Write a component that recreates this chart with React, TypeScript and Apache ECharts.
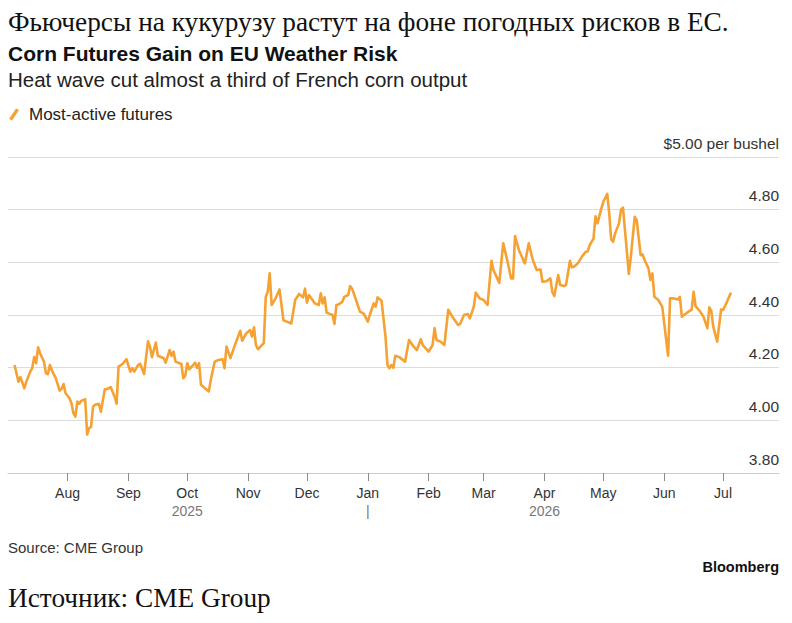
import React, { useEffect, useRef } from "react";
import * as echarts from "echarts";

const seriesName = "Most-active futures";

const dates = [
  "2025-07-05","2025-07-07","2025-07-08","2025-07-10","2025-07-11","2025-07-13","2025-07-14","2025-07-15","2025-07-16","2025-07-17",
  "2025-07-18","2025-07-20","2025-07-21","2025-07-22","2025-07-23","2025-07-24","2025-07-26","2025-07-28","2025-07-29","2025-07-30",
  "2025-07-31","2025-08-02","2025-08-03","2025-08-04","2025-08-05","2025-08-06","2025-08-07","2025-08-08","2025-08-10","2025-08-11",
  "2025-08-12","2025-08-13","2025-08-14","2025-08-15","2025-08-17","2025-08-18","2025-08-20","2025-08-21","2025-08-23","2025-08-25",
  "2025-08-26","2025-08-27","2025-08-29","2025-08-31","2025-09-02","2025-09-03","2025-09-04","2025-09-06","2025-09-07","2025-09-09",
  "2025-09-11","2025-09-12","2025-09-13","2025-09-15","2025-09-16","2025-09-19","2025-09-20","2025-09-22","2025-09-23","2025-09-24",
  "2025-09-25","2025-09-27","2025-09-28","2025-09-29","2025-09-30","2025-10-01","2025-10-02","2025-10-04","2025-10-05","2025-10-06",
  "2025-10-07","2025-10-08","2025-10-10","2025-10-12","2025-10-13","2025-10-15","2025-10-17","2025-10-19","2025-10-20","2025-10-21",
  "2025-10-23","2025-10-25","2025-10-28","2025-10-29","2025-10-31","2025-11-02","2025-11-03","2025-11-04","2025-11-05","2025-11-06",
  "2025-11-09","2025-11-10","2025-11-11","2025-11-12","2025-11-13","2025-11-15","2025-11-17","2025-11-19","2025-11-21","2025-11-23",
  "2025-11-25","2025-11-27","2025-11-29","2025-11-30","2025-12-01","2025-12-02","2025-12-04","2025-12-05","2025-12-07","2025-12-08",
  "2025-12-09","2025-12-10","2025-12-11","2025-12-14","2025-12-15","2025-12-16","2025-12-17","2025-12-19","2025-12-20","2025-12-22",
  "2025-12-23","2025-12-24","2025-12-26","2025-12-28","2025-12-30","2026-01-01","2026-01-02","2026-01-04","2026-01-05","2026-01-06",
  "2026-01-08","2026-01-10","2026-01-11","2026-01-12","2026-01-13","2026-01-14","2026-01-15","2026-01-17","2026-01-20","2026-01-22",
  "2026-01-24","2026-01-26","2026-01-28","2026-01-29","2026-02-01","2026-02-03","2026-02-04","2026-02-05","2026-02-07","2026-02-09",
  "2026-02-11","2026-02-13","2026-02-16","2026-02-17","2026-02-19","2026-02-21","2026-02-22","2026-02-24","2026-02-25","2026-02-27",
  "2026-03-01","2026-03-03","2026-03-05","2026-03-06","2026-03-09","2026-03-10","2026-03-11","2026-03-13","2026-03-15","2026-03-16",
  "2026-03-17","2026-03-19","2026-03-22","2026-03-24","2026-03-26","2026-03-28","2026-03-30","2026-03-31","2026-04-02","2026-04-04",
  "2026-04-05","2026-04-06","2026-04-08","2026-04-09","2026-04-11","2026-04-12","2026-04-14","2026-04-15","2026-04-16","2026-04-18",
  "2026-04-20","2026-04-22","2026-04-23","2026-04-24","2026-04-26","2026-04-27","2026-04-28","2026-04-30","2026-05-01","2026-05-03",
  "2026-05-04","2026-05-05","2026-05-06","2026-05-07","2026-05-09","2026-05-10","2026-05-11","2026-05-14","2026-05-15","2026-05-17",
  "2026-05-18","2026-05-20","2026-05-21","2026-05-22","2026-05-24","2026-05-25","2026-05-26","2026-05-27","2026-05-29","2026-05-31",
  "2026-06-01","2026-06-03","2026-06-04","2026-06-06","2026-06-08","2026-06-09","2026-06-10","2026-06-12","2026-06-14","2026-06-15",
  "2026-06-16","2026-06-17","2026-06-19","2026-06-21","2026-06-23","2026-06-24","2026-06-25","2026-06-26","2026-06-28","2026-06-30",
  "2026-07-01","2026-07-03","2026-07-05",
];

const prices = [
  4.21,4.147,4.164,4.122,4.147,4.185,4.198,4.24,4.217,4.277,
  4.255,4.223,4.179,4.175,4.21,4.19,4.16,4.113,4.12,4.138,
  4.103,4.084,4.065,4.027,4.014,4.071,4.063,4.074,4.08,3.946,
  3.97,3.976,4.052,4.059,4.063,4.033,4.118,4.118,4.126,4.09,
  4.063,4.204,4.214,4.232,4.185,4.198,4.185,4.21,4.215,4.176,
  4.30,4.28,4.24,4.295,4.245,4.236,4.219,4.267,4.245,4.261,
  4.223,4.217,4.214,4.16,4.17,4.217,4.194,4.21,4.219,4.20,
  4.217,4.135,4.122,4.11,4.154,4.223,4.229,4.232,4.198,4.28,
  4.236,4.28,4.34,4.302,4.33,4.343,4.318,4.353,4.286,4.27,
  4.293,4.469,4.488,4.558,4.438,4.463,4.497,4.38,4.374,4.368,
  4.457,4.48,4.467,4.50,4.447,4.476,4.455,4.444,4.438,4.482,
  4.444,4.467,4.409,4.40,4.366,4.438,4.44,4.45,4.469,4.476,
  4.51,4.50,4.457,4.413,4.404,4.375,4.40,4.444,4.432,4.467,
  4.454,4.318,4.21,4.198,4.21,4.20,4.245,4.24,4.223,4.305,
  4.283,4.267,4.308,4.286,4.261,4.286,4.35,4.305,4.299,4.286,
  4.42,4.394,4.362,4.366,4.40,4.404,4.387,4.432,4.485,4.463,
  4.457,4.438,4.606,4.571,4.522,4.60,4.672,4.609,4.539,4.539,
  4.70,4.646,4.596,4.672,4.611,4.571,4.573,4.526,4.528,4.539,
  4.488,4.472,4.552,4.514,4.51,4.514,4.606,4.581,4.583,4.596,
  4.621,4.64,4.641,4.665,4.69,4.775,4.748,4.805,4.83,4.86,
  4.786,4.687,4.678,4.71,4.748,4.80,4.808,4.556,4.621,4.773,
  4.76,4.627,4.63,4.609,4.577,4.533,4.558,4.469,4.457,4.432,
  4.369,4.245,4.463,4.463,4.459,4.469,4.394,4.405,4.416,4.42,
  4.488,4.434,4.416,4.394,4.35,4.429,4.416,4.356,4.299,4.421,
  4.419,4.45,4.485,
];

const monthStarts = [
  "2025-08-01","2025-09-01","2025-10-01","2025-11-01","2025-12-01","2026-01-01",
  "2026-02-01","2026-03-01","2026-04-01","2026-05-01","2026-06-01","2026-07-01",
];
const monthLabels = ["Aug","Sep","Oct","Nov","Dec","Jan","Feb","Mar","Apr","May","Jun","Jul"];
const yearLabels: Record<string, string> = { Oct: "2025", Jan: "|", Apr: "2026" };

const yTicks = { min: 3.8, max: 5.0, interval: 0.2 };
const topUnitLabel = "$5.00 per bushel";

const titleRu = "Фьючерсы на кукурузу растут на фоне погодных рисков в ЕС.";
const titleEn = "Corn Futures Gain on EU Weather Risk";
const subtitle = "Heat wave cut almost a third of French corn output";
const sourceText = "Source: CME Group";
const brandText = "Bloomberg";
const sourceRu = "Источник: CME Group";

function toUTC(s: string): number {
  const [y, m, d] = s.split("-").map(Number);
  return Date.UTC(y, m - 1, d);
}

const ORANGE = "#F5A133";
const SANS = '"Liberation Sans", Arial, sans-serif';
const SERIF = '"Liberation Serif", "DejaVu Serif", serif';

export default function App() {
  const ref = useRef<HTMLDivElement>(null);

  useEffect(() => {
    if (!ref.current) return;
    const chart = echarts.init(ref.current, undefined, { renderer: "svg" });
    const tickValues = monthStarts.map(toUTC);
    const data = dates.map((d, i) => [toUTC(d), prices[i]]);

    const labelFor = (v: number) => {
      const idx = tickValues.findIndex((t) => Math.abs(t - v) < 3600000);
      return idx >= 0 ? monthLabels[idx] : "";
    };

    chart.setOption({
      animation: false,
      backgroundColor: "#ffffff",
      textStyle: { fontFamily: SANS },
      grid: { left: 8, right: 13, top: 157, bottom: 150, containLabel: false },
      legend: {
        data: [seriesName],
        left: 9,
        top: 106,
        padding: 0,
        icon: "path://M7,0 L10,1.5 L3,12 L0,10.5 Z",
        itemWidth: 10,
        itemHeight: 13,
        itemStyle: { color: ORANGE },
        textStyle: { fontSize: 17, color: "#222", fontFamily: SANS, padding: [0, 0, 0, 5] },
        selectedMode: false,
      },
      xAxis: {
        type: "value",
        min: Date.UTC(2025, 6, 1, 16),
        max: Date.UTC(2026, 6, 29, 12),
        axisLine: { show: true, lineStyle: { color: "#cccccc", width: 1 } },
        axisTick: {
          show: true,
          customValues: tickValues,
          length: 8,
          lineStyle: { color: "#8a8a8a", width: 1 },
        },
        splitLine: { show: false },
        axisLabel: {
          customValues: tickValues,
          margin: 11,
          color: "#333",
          fontSize: 14,
          fontFamily: SANS,
          lineHeight: 18,
          formatter: (v: number) => {
            const m = labelFor(v);
            const y = yearLabels[m];
            return y ? `{m|${m}}\n{y|${y}}` : `{m|${m}}`;
          },
          rich: {
            m: { fontSize: 14, color: "#333", fontFamily: SANS, lineHeight: 18 },
            y: { fontSize: 14, color: "#777", fontFamily: SANS, lineHeight: 18 },
          },
        },
      },
      yAxis: {
        type: "value",
        position: "right",
        min: yTicks.min,
        max: yTicks.max,
        interval: yTicks.interval,
        axisLine: { show: false },
        axisTick: { show: false },
        splitLine: { show: true, lineStyle: { color: "#dcdcdc", width: 1 } },
        axisLabel: {
          inside: true,
          margin: 0,
          verticalAlign: "bottom",
          padding: [0, 0, 6, 0],
          fontSize: 15.5,
          color: "#333",
          fontFamily: SANS,
          formatter: (v: number) => (Math.abs(v - 5) < 1e-6 ? topUnitLabel : v.toFixed(2)),
        },
      },
      series: [
        {
          name: seriesName,
          type: "line",
          data,
          showSymbol: false,
          symbol: "none",
          lineStyle: { color: ORANGE, width: 2.6, join: "round" },
          itemStyle: { color: ORANGE },
        },
      ],
      graphic: [
        { type: "text", x: 8, y: 22, style: { text: titleRu, fontSize: 27.3, fontFamily: SERIF, fill: "#111", verticalAlign: "middle" } },
        { type: "text", x: 8, y: 53, style: { text: titleEn, fontSize: 21, fontWeight: "bold", fontFamily: SANS, fill: "#111", verticalAlign: "middle" } },
        { type: "text", x: 8, y: 79, style: { text: subtitle, fontSize: 20.5, fontFamily: SANS, fill: "#222", verticalAlign: "middle" } },
        { type: "text", x: 8, y: 547, style: { text: sourceText, fontSize: 15, fontFamily: SANS, fill: "#333", verticalAlign: "middle" } },
        { type: "text", x: 779, y: 567, style: { text: brandText, fontSize: 14.5, fontWeight: "bold", fontFamily: SANS, fill: "#111", align: "right", verticalAlign: "middle" } },
        { type: "text", x: 8, y: 598, style: { text: sourceRu, fontSize: 27.3, fontFamily: SERIF, fill: "#111", verticalAlign: "middle" } },
      ],
    });

    return () => chart.dispose();
  }, []);

  return (
    <div
      ref={ref}
      style={{ position: "absolute", left: 0, top: 0, width: 792, height: 623, background: "#fff" }}
    />
  );
}
